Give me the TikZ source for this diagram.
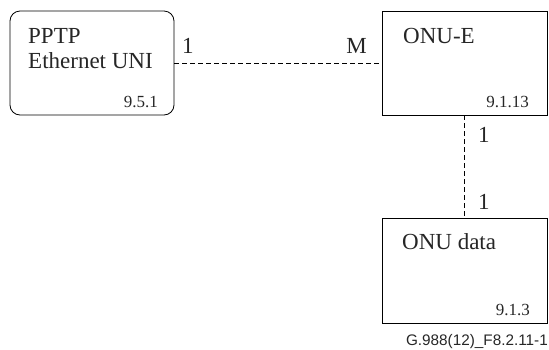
\documentclass[tikz,border=0pt]{standalone}
\usepackage{fontspec}
\setmainfont{Liberation Serif}
\newfontfamily\capfont{Liberation Sans}
\begin{document}
\begin{tikzpicture}[x=1pt,y=-1pt,
  box/.style={draw, line width=0.8pt, minimum width=165pt, minimum height=104pt, inner sep=0pt},
  big/.style={inner sep=0pt, font=\fontsize{23}{25}\selectfont, text=black!85},
  num/.style={inner sep=0pt, font=\fontsize{17}{19}\selectfont, text=black!85},
  link/.style={line width=0.8pt, dash pattern=on 5pt off 3pt}]
\useasboundingbox (0,0) rectangle (549,349);
\node[box, rounded corners=10pt, minimum width=164pt] (b1) at (92,63) {};
\node[box] (b2) at (464.5,63) {};
\node[box, minimum height=105pt] (b3) at (464.5,270.5) {};
\draw[link] (b1.east) -- (b2.west);
\draw[link] (b2.south) -- (b3.north);
\node[big, align=left, anchor=north west] (t1) at (28,28) {PPTP\\Ethernet UNI};
\node[big, anchor=base west] (t2) at (403,43) {ONU-E};
\node[big, anchor=base west] (t3) at (402,249) {ONU data};
\node[num, anchor=base east] (n1) at (158,107) {9.5.1};
\node[num, anchor=base east] (n2) at (529,107) {9.1.13};
\node[num, anchor=base east] (n3) at (530,315) {9.1.3};
\node[big, anchor=base west] (m1) at (182,53) {1};
\node[big, anchor=base east] (m2) at (367,53) {M};
\node[big, anchor=base west] (m3) at (478,142) {1};
\node[big, anchor=base west] (m4) at (478,209) {1};
\node[inner sep=0pt, anchor=base east, font=\capfont\fontsize{15.3}{17}\selectfont, text=black!85] (cap) at (548,345) {G.988(12)\_F8.2.11-1};
\end{tikzpicture}
\end{document}
